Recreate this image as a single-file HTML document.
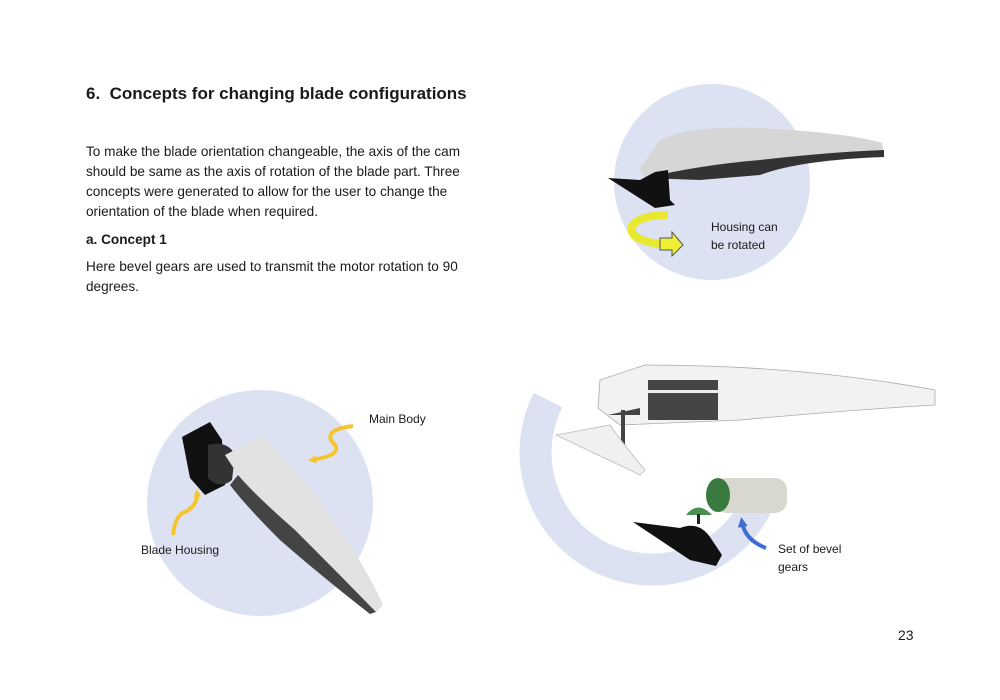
<!DOCTYPE html>
<html><head><meta charset="utf-8"><style>
body{margin:0;width:1000px;height:700px;background:#fff;position:relative;overflow:hidden;font-family:"Liberation Sans",sans-serif;color:#1a1a1a}
.t{position:absolute;white-space:nowrap}
h1{position:absolute;left:86px;top:84px;margin:0;font-size:17px;font-weight:bold}
.p{font-size:13.6px;line-height:20px}
.s{font-size:12px;line-height:18px}
</style></head><body>
<svg width="1000" height="700" style="position:absolute;left:0;top:0">
<defs>
<marker id="ay" markerWidth="8" markerHeight="8" refX="4" refY="4" orient="auto" markerUnits="userSpaceOnUse"><path d="M0 0 L8 4 L0 8 Z" fill="#f5c530"/></marker>
<marker id="ab" markerWidth="10" markerHeight="10" refX="5" refY="5" orient="auto" markerUnits="userSpaceOnUse"><path d="M0 0 L10 5 L0 10 Z" fill="#3e6fd0"/></marker>
</defs>
<circle cx="712" cy="182" r="98" fill="#dde2f3"/>
<circle cx="260" cy="503" r="113" fill="#dde2f3"/>
<path d="M548 400 A110 110 0 1 0 757 505" fill="none" stroke="#dde2f3" stroke-width="32"/>
<!-- top right blade -->
<path d="M640 168 L660 140 Q690 125 760 128 Q850 133 882 143 L884 157 Q800 160 760 175 L700 178 L645 180 Z" fill="#d6d6d6"/>
<path d="M645 178 Q700 165 760 160 Q830 152 884 150 L884 157 Q800 160 760 175 L700 180 Z" fill="#333"/>
<path d="M608 178 L640 180 L655 172 L668 170 L670 200 L675 205 L655 208 Z" fill="#111"/>
<path d="M668 215 Q640 215 632 226 Q628 240 660 244" fill="none" stroke="#e8e830" stroke-width="8"/>
<path d="M660 238 L672 238 L672 232 L683 245 L672 256 L672 250 L660 250 Z" fill="#ee3" stroke="#556" stroke-width="1"/>
<!-- bottom left -->
<path d="M182 437 L210 422 L222 440 L225 485 L205 495 L190 478 Z" fill="#111"/>
<path d="M208 445 Q228 440 235 455 L232 480 Q220 490 208 478 Z" fill="#333"/>
<path d="M225 455 L262 436 Q300 470 340 530 Q370 575 383 605 L376 612 Q335 570 295 530 Q255 495 238 475 Z" fill="#e2e2e2"/>
<path d="M238 475 Q255 495 295 530 Q335 570 376 612 L370 614 Q320 575 280 540 Q245 505 230 485 Z" fill="#444"/>
<path d="M353 426 Q320 430 335 445 Q342 455 312 460" fill="none" stroke="#f5c530" stroke-width="4" marker-end="url(#ay)"/>
<path d="M173 535 Q175 515 185 512 Q198 505 197 493" fill="none" stroke="#f5c530" stroke-width="4" marker-end="url(#ay)"/>
<!-- bottom right -->
<path d="M600 380 L645 365 Q800 365 935 390 L935 405 Q850 410 740 420 L620 425 L598 408 Z" fill="#f2f2f2" stroke="#aaa" stroke-width="0.8"/>
<rect x="648" y="380" width="70" height="40" fill="#444"/>
<rect x="648" y="390" width="70" height="3" fill="#eee"/>
<path d="M608 415 L640 408 L640 415 Z" fill="#444"/>
<rect x="621" y="410" width="4" height="40" fill="#444"/>
<path d="M556 435 L640 475 L645 470 Q620 440 610 425 Z" fill="#f0f0f0" stroke="#bbb" stroke-width="0.8"/>
<rect x="715" y="478" width="72" height="35" rx="12" fill="#d8d8d0"/>
<ellipse cx="718" cy="495" rx="12" ry="17" fill="#3a7a40"/>
<path d="M686 515 Q698 500 712 515 Z" fill="#4a9050"/>
<rect x="697" y="514" width="3" height="10" fill="#222"/>
<path d="M633 522 L680 528 Q700 520 712 540 L722 555 L716 566 L690 560 Z" fill="#111"/>
<path d="M766 548 Q745 540 742 522" fill="none" stroke="#3e6fd0" stroke-width="4" marker-end="url(#ab)"/>
</svg>
<h1>6.&nbsp; Concepts for changing blade configurations</h1>
<div class="t p" style="left:86px;top:142px">To make the blade orientation changeable, the axis of the cam<br>should be same as the axis of rotation of the blade part. Three<br>concepts were generated to allow for the user to change the<br>orientation of the blade when required.</div>
<div class="t p" style="left:86px;top:230px;font-weight:bold">a. Concept 1</div>
<div class="t p" style="left:86px;top:257px">Here bevel gears are used to transmit the motor rotation to 90<br>degrees.</div>
<div class="t s" style="left:711px;top:218px">Housing can<br>be rotated</div>
<div class="t s" style="left:369px;top:410px">Main Body</div>
<div class="t s" style="left:141px;top:541px">Blade Housing</div>
<div class="t s" style="left:778px;top:540px">Set of bevel<br>gears</div>
<div class="t" style="left:898px;top:627px;font-size:14px">23</div>
</body></html>
